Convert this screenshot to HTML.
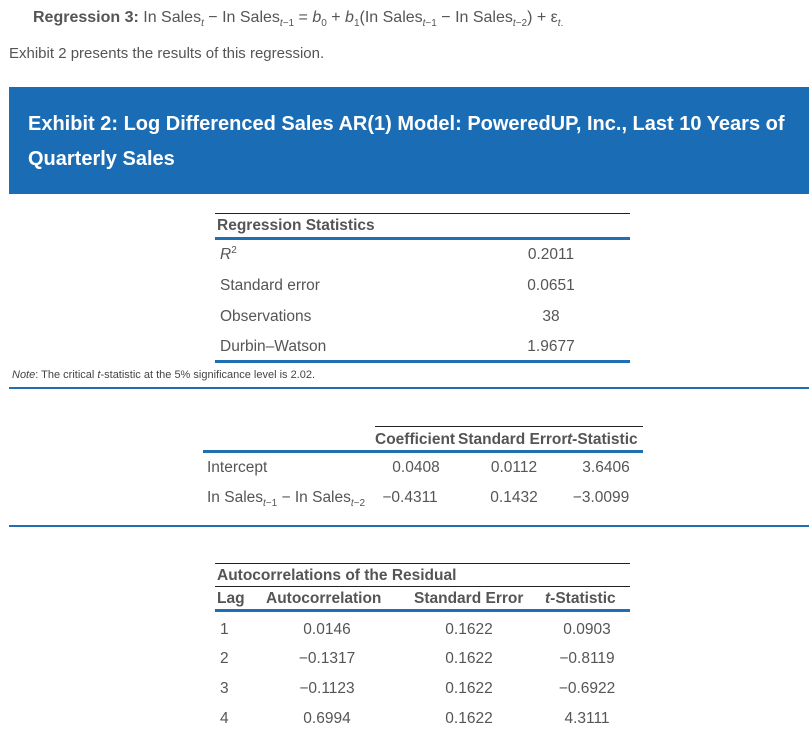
<!DOCTYPE html>
<html><head><meta charset="utf-8"><style>
body{margin:0;width:809px;height:741px;background:#fff;position:relative;overflow:hidden;font-family:"Liberation Sans",Arial,sans-serif;color:#555}
.a{position:absolute;white-space:nowrap;line-height:1}
.b{font-weight:bold}
.c{transform:translateX(-50%)}
.l{position:absolute;height:1px;background:#222}
.bl{position:absolute;height:3px;background:#1f6fb2}
sub{font-size:10px;vertical-align:-4px;line-height:0}
sup{font-size:10px;vertical-align:6px;line-height:0}
.t{font-size:15.5px;margin-top:2px}
</style></head><body>
<div class="a" style="left:33px;top:10px;font-size:16px;color:#555"><b>Regression 3:</b> In Sales<sub><i>t</i></sub> − In Sales<sub><i>t</i>−1</sub> = <i>b</i><sub>0</sub> + <i>b</i><sub>1</sub>(In Sales<sub><i>t</i>−1</sub> − In Sales<sub><i>t</i>−2</sub>) + ε<sub><i>t</i>.</sub></div>
<div class="a" style="left:9px;top:46px;font-size:15px">Exhibit 2 presents the results of this regression.</div>
<div style="position:absolute;left:9px;top:87px;width:800px;height:107px;background:#1a6db4"></div>
<div class="a b" style="left:28px;top:114px;font-size:20px;color:#fff">Exhibit 2: Log Differenced Sales AR(1) Model: PoweredUP, Inc., Last 10 Years of</div>
<div class="a b" style="left:28px;top:149px;font-size:20px;color:#fff">Quarterly Sales</div>

<div class="l" style="left:215px;top:213px;width:415px"></div>
<div class="a b t" style="left:217px;top:216px">Regression Statistics</div>
<div class="bl" style="left:215px;top:237px;width:415px"></div>
<div class="a t" style="left:220px;top:245px"><i>R</i><sup>2</sup></div>
<div class="a c t" style="left:551px;top:245px">0.2011</div>
<div class="a t" style="left:220px;top:276px">Standard error</div>
<div class="a c t" style="left:551px;top:276px">0.0651</div>
<div class="a t" style="left:220px;top:307px">Observations</div>
<div class="a c t" style="left:551px;top:307px">38</div>
<div class="a t" style="left:220px;top:337px">Durbin–Watson</div>
<div class="a c t" style="left:551px;top:337px">1.9677</div>
<div class="bl" style="left:215px;top:360px;width:415px"></div>
<div class="a" style="left:12px;top:370px;font-size:11px;color:#444"><i>Note</i>: The critical <i>t</i>-statistic at the 5% significance level is 2.02.</div>
<div class="bl" style="left:9px;top:387px;width:800px;height:2px"></div>

<div class="l" style="left:375px;top:426px;width:268px"></div>
<div class="a b t" style="left:375px;top:430px">Coefficient</div>
<div class="a b t" style="left:458px;top:430px">Standard Error</div>
<div class="a b t" style="left:567px;top:430px"><i>t</i>-Statistic</div>
<div class="bl" style="left:203px;top:450px;width:440px"></div>
<div class="a t" style="left:207px;top:458px">Intercept</div>
<div class="a c t" style="left:416px;top:458px">0.0408</div>
<div class="a c t" style="left:514px;top:458px">0.0112</div>
<div class="a c t" style="left:606px;top:458px">3.6406</div>
<div class="a t" style="left:207px;top:488px">In Sales<sub><i>t</i>−1</sub> − In Sales<sub><i>t</i>−2</sub></div>
<div class="a c t" style="left:410px;top:488px">−0.4311</div>
<div class="a c t" style="left:514px;top:488px">0.1432</div>
<div class="a c t" style="left:601px;top:488px">−3.0099</div>
<div class="bl" style="left:9px;top:525px;width:800px;height:2px"></div>

<div class="l" style="left:215px;top:563px;width:415px"></div>
<div class="a b t" style="left:217px;top:566px">Autocorrelations of the Residual</div>
<div class="l" style="left:215px;top:586px;width:415px"></div>
<div class="a b t" style="left:217px;top:589px">Lag</div>
<div class="a b t" style="left:266px;top:589px">Autocorrelation</div>
<div class="a b t" style="left:414px;top:589px">Standard Error</div>
<div class="a b t" style="left:545px;top:589px"><i>t</i>-Statistic</div>
<div class="bl" style="left:215px;top:609px;width:415px"></div>
<div class="a t" style="left:220px;top:620px">1</div>
<div class="a c t" style="left:327px;top:620px">0.0146</div>
<div class="a c t" style="left:469px;top:620px">0.1622</div>
<div class="a c t" style="left:587px;top:620px">0.0903</div>
<div class="a t" style="left:220px;top:649px">2</div>
<div class="a c t" style="left:327px;top:649px">−0.1317</div>
<div class="a c t" style="left:469px;top:649px">0.1622</div>
<div class="a c t" style="left:587px;top:649px">−0.8119</div>
<div class="a t" style="left:220px;top:679px">3</div>
<div class="a c t" style="left:327px;top:679px">−0.1123</div>
<div class="a c t" style="left:469px;top:679px">0.1622</div>
<div class="a c t" style="left:587px;top:679px">−0.6922</div>
<div class="a t" style="left:220px;top:709px">4</div>
<div class="a c t" style="left:327px;top:709px">0.6994</div>
<div class="a c t" style="left:469px;top:709px">0.1622</div>
<div class="a c t" style="left:587px;top:709px">4.3111</div>
</body></html>
